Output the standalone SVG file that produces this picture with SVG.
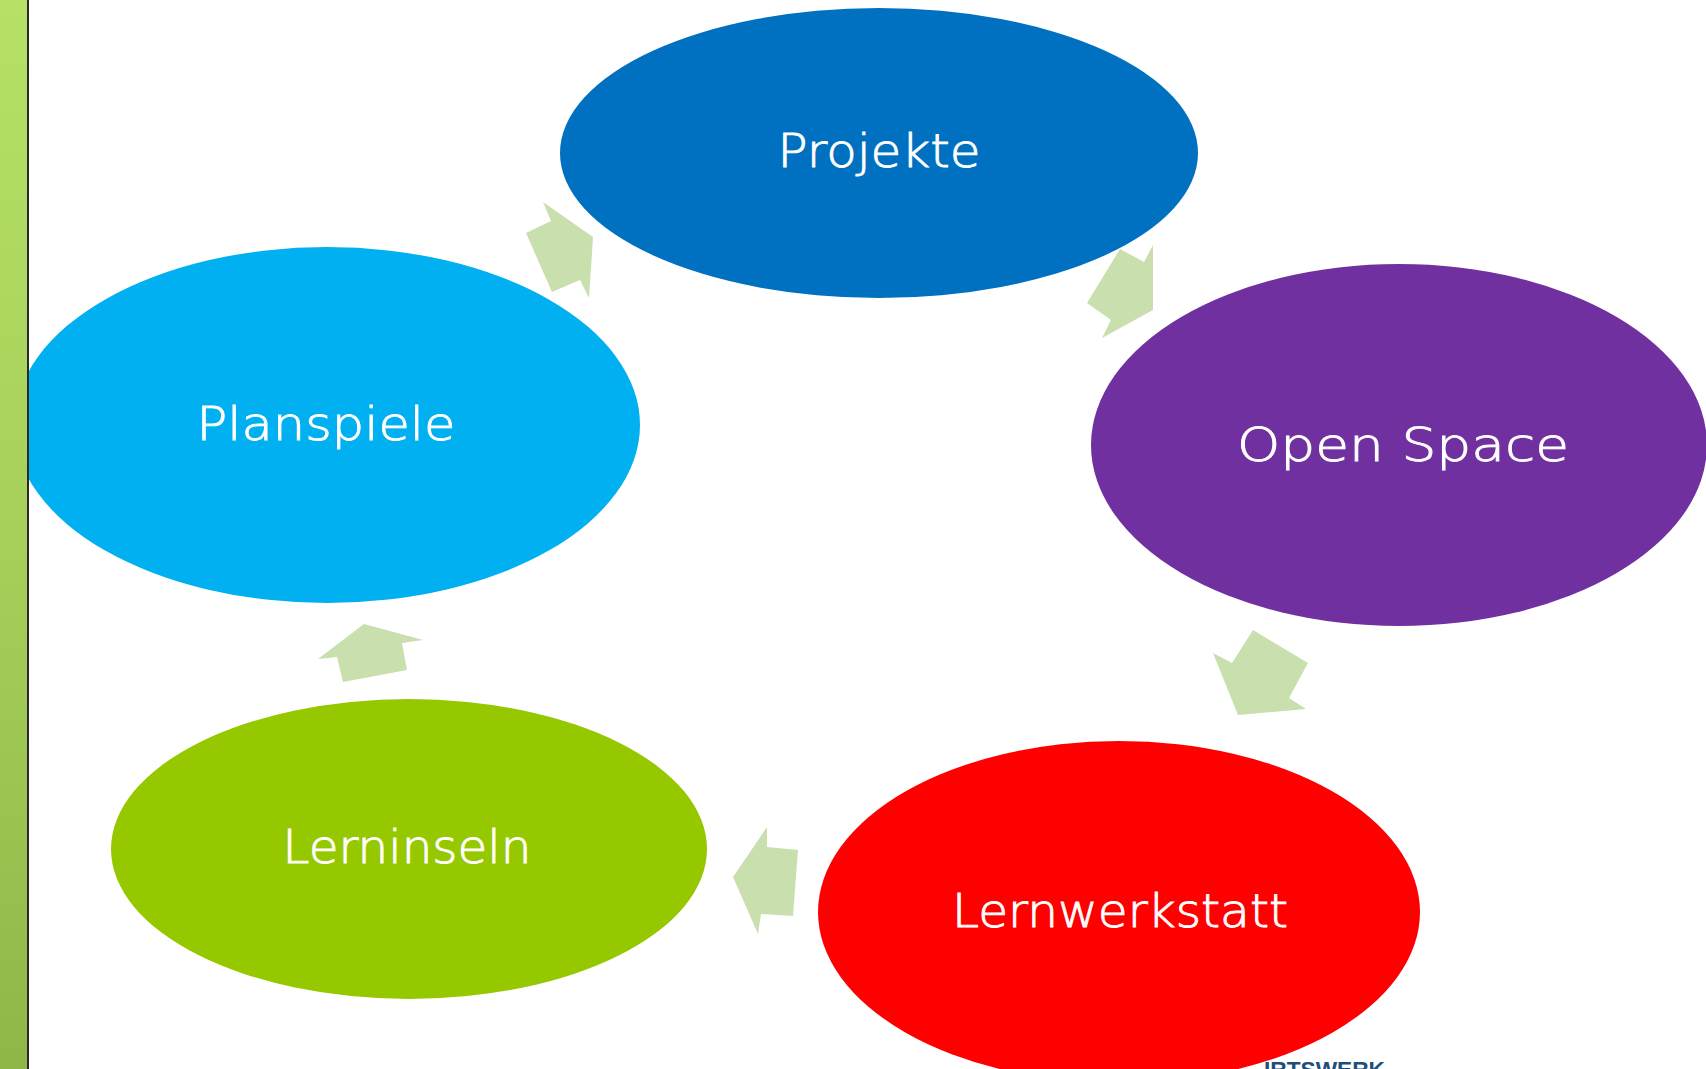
<svg xmlns="http://www.w3.org/2000/svg" width="1706" height="1069" viewBox="0 0 1706 1069">
  <defs>
    <linearGradient id="strip" x1="0" y1="0" x2="0" y2="1">
      <stop offset="0" stop-color="#b6e166"/>
      <stop offset="0.5" stop-color="#a6d05a"/>
      <stop offset="1" stop-color="#8fb747"/>
    </linearGradient>
    <style>
      .lbl { font-family: "DejaVu Sans", "Noto Sans", sans-serif; font-weight: 200; font-size: 46px; fill: #ffffff; stroke: #ffffff; stroke-width: 0.9; text-anchor: middle; }
      .arrow { fill: #c9dfae; }
    </style>
  </defs>
  <rect x="0" y="0" width="1706" height="1069" fill="#ffffff"/>

  <text x="1264" y="1077" font-family="Liberation Sans, Arial, sans-serif" font-weight="bold" font-size="22" fill="#1f4e79" textLength="121" lengthAdjust="spacingAndGlyphs">IRTSWERK</text>

  <g id="connectors">
    <polygon class="arrow" points="543,202 593,237 589,298 580,280 552,292 526,233 551,221"/>
    <polygon class="arrow" points="1120,249 1144,262 1153,245 1153,310 1102,338 1111,320 1087,303"/>
    <polygon class="arrow" points="1213,653 1232,663 1253,630 1308,663 1289,698 1306,709 1238,715"/>
    <polygon class="arrow" points="767,827 767,847 798,850 793,916 761,914 758,934 733,877"/>
    <polygon class="arrow" points="318,659 364,624 423,640 402,643 407,670 343,682 337,657"/>
  </g>

  <g id="projekte">
    <ellipse cx="879" cy="153" rx="319" ry="145" fill="#0070c0"/>
    <text class="lbl" x="879" y="167" textLength="203" lengthAdjust="spacingAndGlyphs">Projekte</text>
  </g>
  <g id="open-space">
    <ellipse cx="1399" cy="445" rx="308" ry="181" fill="#7030a0"/>
    <text class="lbl" x="1403" y="461" textLength="332" lengthAdjust="spacingAndGlyphs">Open Space</text>
  </g>
  <g id="lernwerkstatt">
    <ellipse cx="1119" cy="912" rx="301" ry="171" fill="#ff0000"/>
    <text class="lbl" x="1120" y="927" textLength="336" lengthAdjust="spacingAndGlyphs">Lernwerkstatt</text>
  </g>
  <g id="lerninseln">
    <ellipse cx="409" cy="849" rx="298" ry="150" fill="#96c800"/>
    <text class="lbl" x="407" y="863" textLength="249" lengthAdjust="spacingAndGlyphs">Lerninseln</text>
  </g>
  <g id="planspiele">
    <ellipse cx="327" cy="425" rx="313" ry="178" fill="#00b0f0"/>
    <text class="lbl" x="326" y="440" textLength="259" lengthAdjust="spacingAndGlyphs">Planspiele</text>
  </g>

  <rect x="0" y="0" width="27" height="1069" fill="url(#strip)"/>
  <rect x="27" y="0" width="2" height="1069" fill="#2a2a2a"/>
</svg>
